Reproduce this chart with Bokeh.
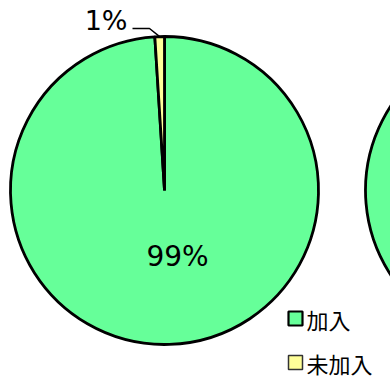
import math
from bokeh.plotting import figure
from bokeh.models import Range1d, ColumnDataSource
from bokeh.embed import file_html
from bokeh.resources import INLINE
from bokeh.core.properties import value

categories = ["加入", "未加入"]
values = [99, 1]
colors = ["#66FF99", "#FFFF99"]
second_values = [99, 1]

W, H = 390, 377
p = figure(width=W, height=H, x_range=Range1d(0, W), y_range=Range1d(0, H),
           output_backend="svg", toolbar_location=None, min_border=0)
p.axis.visible = False
p.grid.visible = False
p.outline_line_color = None
p.background_fill_color = "white"
p.border_fill_color = "white"


def pie_source(vals, cx, cy):
    total = float(sum(vals))
    starts, ends = [], []
    cum = 0.0
    for v in vals:
        starts.append(math.radians(90 - cum / total * 360))
        cum += v
        ends.append(math.radians(90 - cum / total * 360))
    return ColumnDataSource(dict(x=[cx] * len(vals), y=[cy] * len(vals),
                                 start=starts, end=ends, color=colors[:len(vals)],
                                 label=categories[:len(vals)]))


R = 154
cx, cy = 164, H - 190
src = pie_source(values, cx, cy)
p.wedge(x="x", y="y", radius=R, start_angle="start", end_angle="end", direction="clock",
        fill_color="color", line_color="black", line_width=2.8, source=src)

# second (cut-off) pie on the right
src2 = pie_source(second_values, 519, cy)
p.wedge(x="x", y="y", radius=R, start_angle="start", end_angle="end", direction="clock",
        fill_color="color", line_color="black", line_width=2.8, source=src2)

# labels
total = float(sum(values))
big_mid = math.radians(90 - (values[0] / 2) / total * 360)
p.text(x=[cx + 66 * math.cos(big_mid) + 11], y=[cy + 66 * math.sin(big_mid)],
       text=[f"{values[0]}%"], text_align="center", text_baseline="middle",
       text_font=value("DejaVu Sans"), text_font_size="28px", text_color="black")

small_mid = math.radians(90 - (values[0] + values[1] / 2) / total * 360)
ex, ey = cx + R * math.cos(small_mid), cy + R * math.sin(small_mid)
p.line(x=[132, 149, ex], y=[H - 28, H - 28, ey], line_color="black", line_width=1.5)
p.text(x=[127], y=[H - 20], text=[f"{values[1]}%"], text_align="right", text_baseline="middle",
       text_font=value("DejaVu Sans"), text_font_size="27px", text_color="black")

# legend
leg_y = [H - 318, H - 362]
p.rect(x=[295, 295], y=leg_y, width=14, height=14, fill_color=colors,
       line_color=["black", "#333333"], line_width=[2.2, 1.5])
p.text(x=[306, 306], y=leg_y, text=categories, text_align="left", text_baseline="middle",
       text_font=value("Noto Sans CJK JP"), text_font_size="22px", text_color="black")

open("out.html", "w").write(file_html(p, INLINE))
